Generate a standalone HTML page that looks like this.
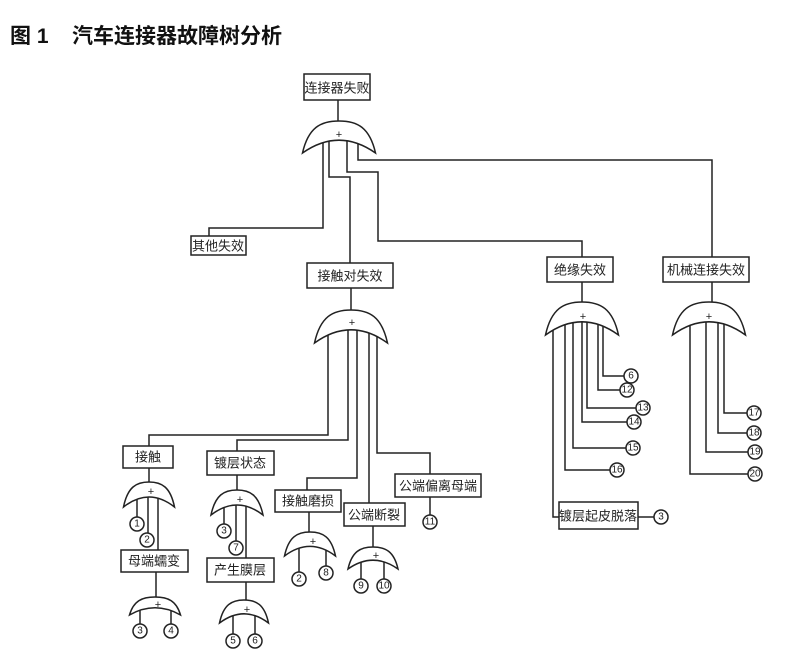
<!DOCTYPE html>
<html><head><meta charset="utf-8"><style>
html,body{margin:0;padding:0;background:#fff;width:800px;height:663px;overflow:hidden}
svg{display:block}
text{font-family:"Liberation Sans","Noto Sans CJK SC",sans-serif;fill:#222}
.b{fill:#fff;stroke:#222;stroke-width:1.5}
.l{fill:none;stroke:#222;stroke-width:1.5}
.t{font-size:13px;text-anchor:middle;dominant-baseline:central}
.c{font-size:10px;text-anchor:middle;dominant-baseline:central}
.p{font-size:11px;text-anchor:middle;dominant-baseline:central}
.h{font-size:21px;font-weight:bold;fill:#111}
</style></head><body>
<svg width="800" height="663" viewBox="0 0 800 663">
<text class="h" x="10" y="43">图 1</text>
<text class="h" x="72" y="43">汽车连接器故障树分析</text>

<g class="l">
<path d="M338,100V125"/>
<path d="M323,137V228H209V236"/>
<path d="M329,137V177H350V263"/>
<path d="M347,137V172H378V241H582V257"/>
<path d="M358,137V160H712V257"/>
<path d="M351,288V314"/>
<path d="M328,327V435H149V446"/>
<path d="M348,327V440H237V451"/>
<path d="M357,327V478H307V490"/>
<path d="M369,327V503"/>
<path d="M377,327V453H430V474"/>
<path d="M582,282V306"/>
<path d="M553,320V517H559"/><path d="M638,517H654"/>
<path d="M565,320V470H610"/>
<path d="M573,320V448H626"/>
<path d="M582,320V422H627"/>
<path d="M587,320V408H636"/>
<path d="M598,320V390H620"/>
<path d="M603,320V376H624"/>
<path d="M712,282V306"/>
<path d="M690,320V474H748"/>
<path d="M706,320V452H748"/>
<path d="M718,320V433H747"/>
<path d="M724,320V413H747"/>
<path d="M149,468V486"/>
<path d="M137,494V517"/><path d="M148,494V533"/><path d="M158,494V550"/>
<path d="M156,572V600"/>
<path d="M140,606V624"/><path d="M171,606V624"/>
<path d="M237,475V494"/>
<path d="M224,502V524"/><path d="M236,502V541"/><path d="M246,502V558"/>
<path d="M246,582V603"/>
<path d="M233,612V634"/><path d="M255,612V634"/>
<path d="M309,512V536"/>
<path d="M299,544V572"/><path d="M326,544V566"/>
<path d="M373,526V550"/>
<path d="M361,558V579"/><path d="M384,558V579"/>
<path d="M430,497V515"/>
</g>

<g class="b">
<path d="M302.5,153 C308.3,127.4 320.8,121 339,121 C357.3,121 369.7,127.4 375.5,153 Q339,127.4 302.5,153Z"/>
<path d="M314.5,343 C320.3,316.6 332.8,310 351,310 C369.3,310 381.7,316.6 387.5,343 Q351,316.6 314.5,343Z"/>
<path d="M545.5,335 C551.3,308.6 563.8,302 582,302 C600.3,302 612.7,308.6 618.5,335 Q582,308.6 545.5,335Z"/>
<path d="M672.5,335 C678.3,308.6 690.8,302 709,302 C727.3,302 739.7,308.6 745.5,335 Q709,308.6 672.5,335Z"/>
<path d="M123.5,507 C127.6,487 136.3,482 149,482 C161.8,482 170.4,487 174.5,507 Q149,487 123.5,507Z"/>
<path d="M129.5,615 C133.6,600.6 142.3,597 155,597 C167.8,597 176.4,600.6 180.5,615 Q155,600.6 129.5,615Z"/>
<path d="M211,515 C215.2,495 224,490 237,490 C250,490 258.8,495 263,515 Q237,495 211,515Z"/>
<path d="M219.5,623 C223.4,604.6 231.8,600 244,600 C256.3,600 264.6,604.6 268.5,623 Q244,604.6 219.5,623Z"/>
<path d="M284.5,556 C288.6,536.8 297.3,532 310,532 C322.8,532 331.4,536.8 335.5,556 Q310,536.8 284.5,556Z"/>
<path d="M348,569 C352,551.4 360.5,547 373,547 C385.5,547 394,551.4 398,569 Q373,551.4 348,569Z"/>
</g>
<g>
<text class="p" x="339" y="135">+</text>
<text class="p" x="352" y="323">+</text>
<text class="p" x="583" y="317">+</text>
<text class="p" x="709" y="317">+</text>
<text class="p" x="151" y="492">+</text>
<text class="p" x="158" y="605">+</text>
<text class="p" x="240" y="500">+</text>
<text class="p" x="247" y="610">+</text>
<text class="p" x="313" y="542">+</text>
<text class="p" x="376" y="556">+</text>
</g>

<g class="b">
<rect x="304" y="74" width="66" height="26"/>
<rect x="191" y="236" width="55" height="19"/>
<rect x="307" y="263" width="86" height="25"/>
<rect x="547" y="257" width="66" height="25"/>
<rect x="663" y="257" width="86" height="25"/>
<rect x="559" y="502" width="79" height="27"/>
<rect x="123" y="446" width="50" height="22"/>
<rect x="207" y="451" width="67" height="24"/>
<rect x="275" y="490" width="66" height="22"/>
<rect x="344" y="503" width="61" height="23"/>
<rect x="395" y="474" width="86" height="23"/>
<rect x="121" y="550" width="67" height="22"/>
<rect x="207" y="558" width="67" height="24"/>
</g>
<g class="t">
<text x="337" y="88">连接器失败</text>
<text x="218" y="246">其他失效</text>
<text x="350" y="276">接触对失效</text>
<text x="580" y="270">绝缘失效</text>
<text x="706" y="270">机械连接失效</text>
<text x="598" y="516">镀层起皮脱落</text>
<text x="148" y="457">接触</text>
<text x="240" y="463">镀层状态</text>
<text x="308" y="501">接触磨损</text>
<text x="374" y="515">公端断裂</text>
<text x="438" y="486">公端偏离母端</text>
<text x="154" y="561">母端蠕变</text>
<text x="240" y="570">产生膜层</text>
</g>

<g class="b">
<circle cx="631" cy="376" r="7"/><circle cx="627" cy="390" r="7"/><circle cx="643" cy="408" r="7"/>
<circle cx="634" cy="422" r="7"/><circle cx="633" cy="448" r="7"/><circle cx="617" cy="470" r="7"/>
<circle cx="661" cy="517" r="7"/>
<circle cx="754" cy="413" r="7"/><circle cx="754" cy="433" r="7"/><circle cx="755" cy="452" r="7"/><circle cx="755" cy="474" r="7"/>
<circle cx="137" cy="524" r="7"/><circle cx="147" cy="540" r="7"/>
<circle cx="140" cy="631" r="7"/><circle cx="171" cy="631" r="7"/>
<circle cx="224" cy="531" r="7"/><circle cx="236" cy="548" r="7"/>
<circle cx="233" cy="641" r="7"/><circle cx="255" cy="641" r="7"/>
<circle cx="299" cy="579" r="7"/><circle cx="326" cy="573" r="7"/>
<circle cx="361" cy="586" r="7"/><circle cx="384" cy="586" r="7"/>
<circle cx="430" cy="522" r="7"/>
</g>
<g class="c">
<text x="631" y="376">6</text><text x="627" y="390">12</text><text x="643" y="408">13</text>
<text x="634" y="422">14</text><text x="633" y="448">15</text><text x="617" y="470">16</text>
<text x="661" y="517">3</text>
<text x="754" y="413">17</text><text x="754" y="433">18</text><text x="755" y="452">19</text><text x="755" y="474">20</text>
<text x="137" y="524">1</text><text x="147" y="540">2</text>
<text x="140" y="631">3</text><text x="171" y="631">4</text>
<text x="224" y="531">3</text><text x="236" y="548">7</text>
<text x="233" y="641">5</text><text x="255" y="641">6</text>
<text x="299" y="579">2</text><text x="326" y="573">8</text>
<text x="361" y="586">9</text><text x="384" y="586">10</text>
<text x="430" y="522">11</text>
</g>
</svg>
</body></html>
